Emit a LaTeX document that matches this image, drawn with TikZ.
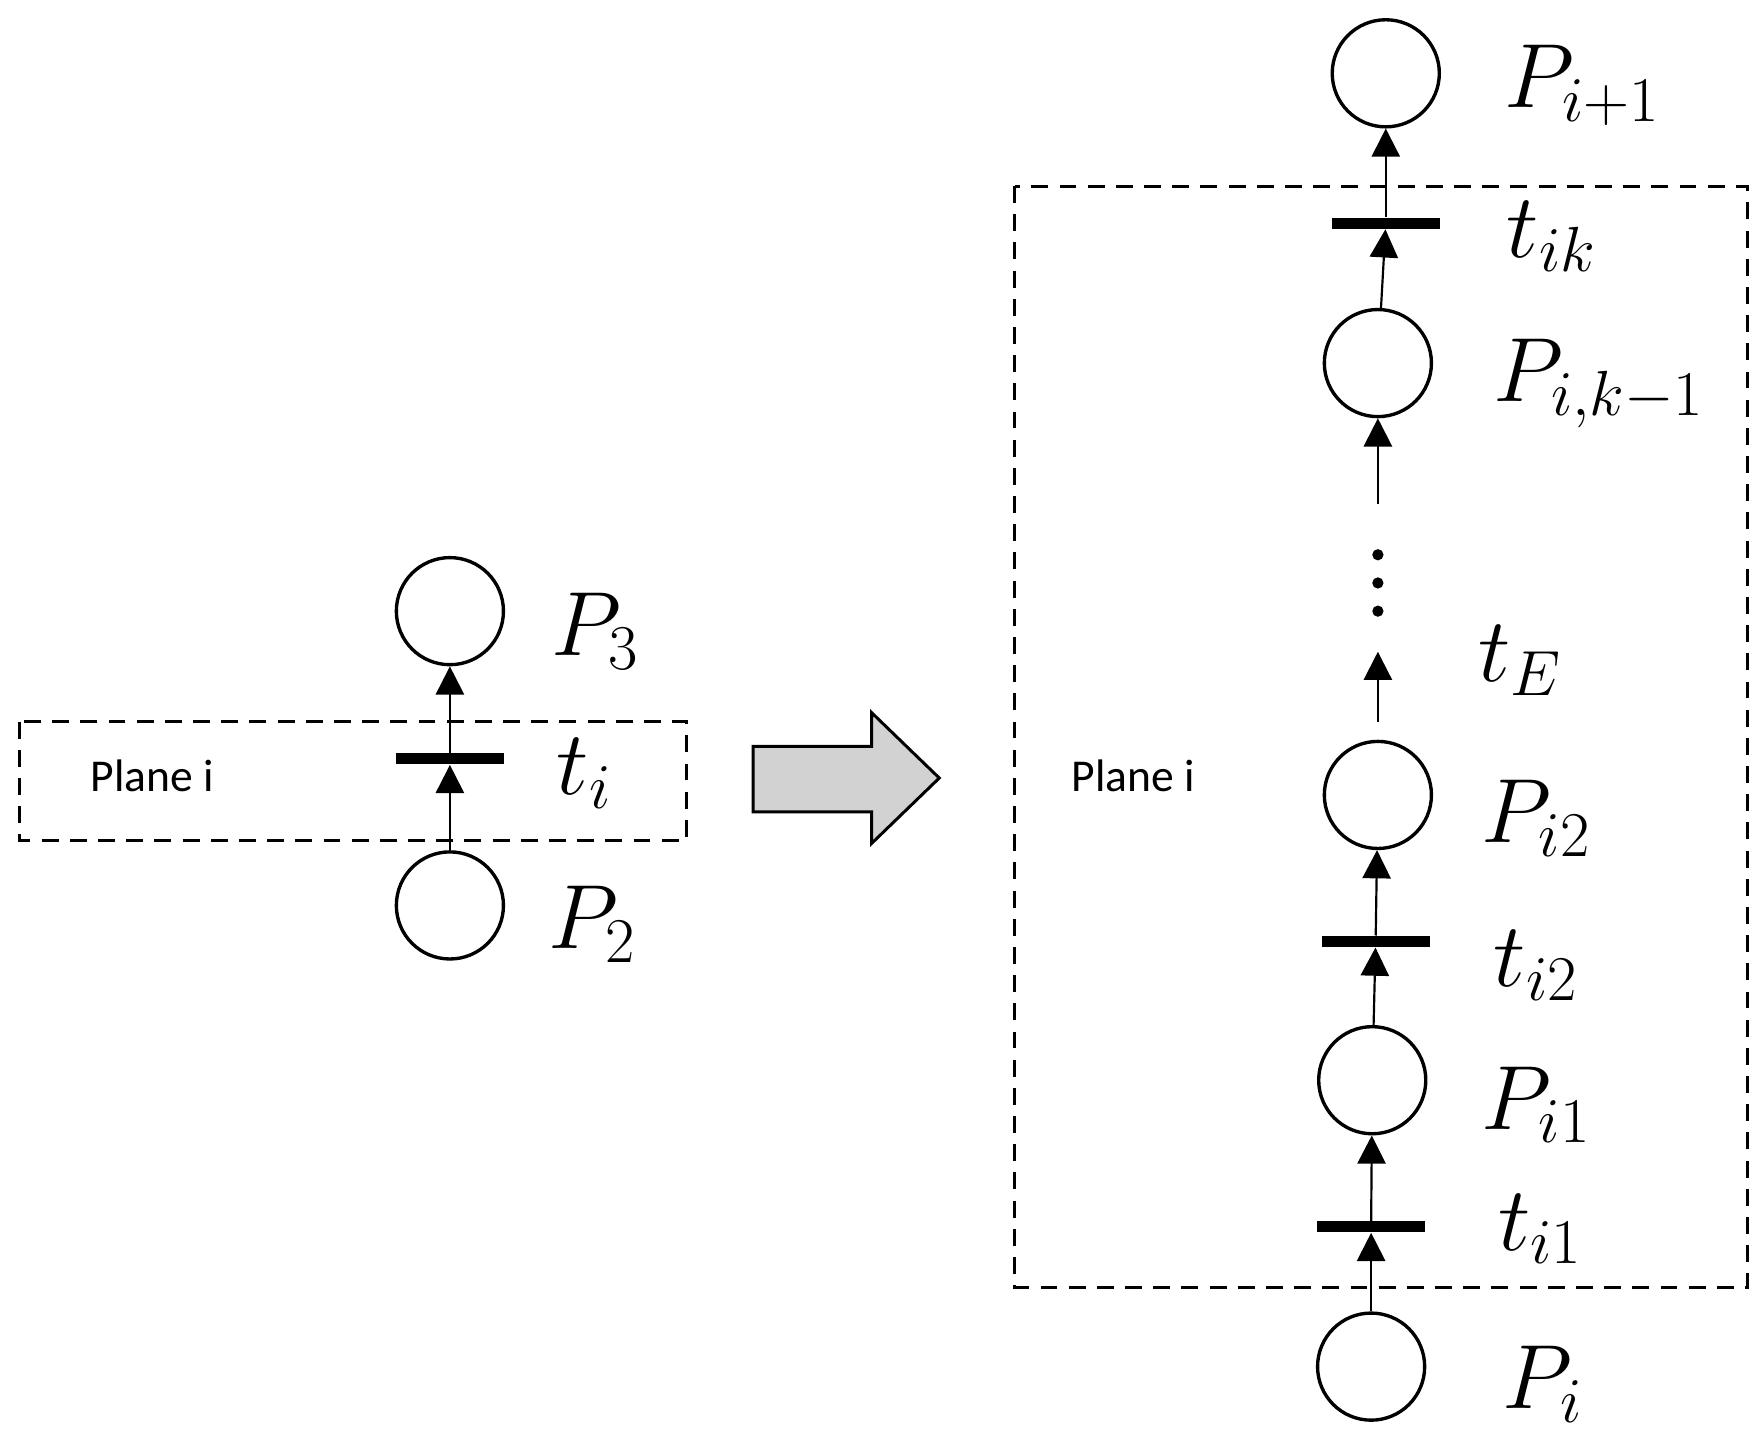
\RequirePackage{fix-cm}
\documentclass[tikz,border=0pt]{standalone}
\usepackage{fontspec}
\newfontfamily\planefont{Carlito}
\usetikzlibrary{arrows.meta}
\begin{document}
\begin{tikzpicture}[x=0.02cm,y=-0.02cm,
  place/.style={draw,line width=1.7pt,circle,minimum size=1.9cm,inner sep=0pt},
  trans/.style={fill=black,minimum width=1.92cm,minimum height=0.2cm,inner sep=0pt},
  arc/.style={line width=1.1pt,-{Triangle[width=0.5cm,length=0.5cm]}},
  lbl/.style={font=\fontsize{46}{48}\selectfont},
  box/.style={dashed,line width=1.5pt,dash pattern=on 0.3cm off 0.2cm},
  plane/.style={font=\planefont\fontsize{23}{25}\selectfont}]
\useasboundingbox (0,0) rectangle (1560,1282);
% left
\draw[box] (17,640) rectangle (609,745);
\node[plane] (pl1) at (135,688) {Plane i};
\node[place] (P3) at (399,542) {};
\node[trans] (ti) at (399,673) {};
\node[place] (P2) at (399,803) {};
\draw[arc] (P2) -- (ti);
\draw[arc] (ti) -- (P3);
\node[lbl] (lP3) at (528,560) {$P_3$};
\node[lbl] (lti) at (518,686) {$t_i$};
\node[lbl] (lP2) at (525,820) {$P_2$};
% big arrow
\draw[line width=1.5pt,fill=gray!35] (668,662) -- (773,662) -- (773,632) -- (833,690) -- (773,748) -- (773,720) -- (668,720) -- cycle;
% right
\draw[box] (900,165) rectangle (1550,1142);
\node[plane] (pl2) at (1005,688) {Plane i};
\node[place] (Pip1) at (1229,65) {};
\node[trans] (tik) at (1229,198) {};
\node[place] (Pik) at (1222,322) {};
\coordinate (a1) at (1222,447);
\foreach \y in {492,517,542} \fill (1222,\y) circle (0.1cm);
\coordinate (a2) at (1222,640);
\coordinate (a3) at (1222,578);
\node[place] (Pi2) at (1222,705) {};
\node[trans] (ti2) at (1220,835) {};
\node[place] (Pi1) at (1217,958) {};
\node[trans] (ti1) at (1216,1088) {};
\node[place] (Pi) at (1216,1212) {};
\draw[arc] (Pi) -- (ti1);
\draw[arc] (ti1) -- (Pi1);
\draw[arc] (Pi1) -- (ti2);
\draw[arc] (ti2) -- (Pi2);
\draw[arc] (a2) -- (a3);
\draw[arc] (a1) -- (Pik);
\draw[arc] (Pik) -- (tik);
\draw[arc] (tik) -- (Pip1);
\node[lbl] (lPip1) at (1403,76) {$P_{i+1}$};
\node[lbl] (ltik) at (1376,210) {$t_{ik}$};
\node[lbl] (lPik) at (1418,340) {$P_{i,k-1}$};
\node[lbl] (ltE) at (1348,586) {$t_E$};
\node[lbl] (lPi2) at (1362,726) {$P_{i2}$};
\node[lbl] (lti2) at (1362,856) {$t_{i2}$};
\node[lbl] (lPi1) at (1362,980) {$P_{i1}$};
\node[lbl] (lti1) at (1366,1090) {$t_{i1}$};
\node[lbl] (lPi) at (1368,1228) {$P_i$};
\end{tikzpicture}
\end{document}
